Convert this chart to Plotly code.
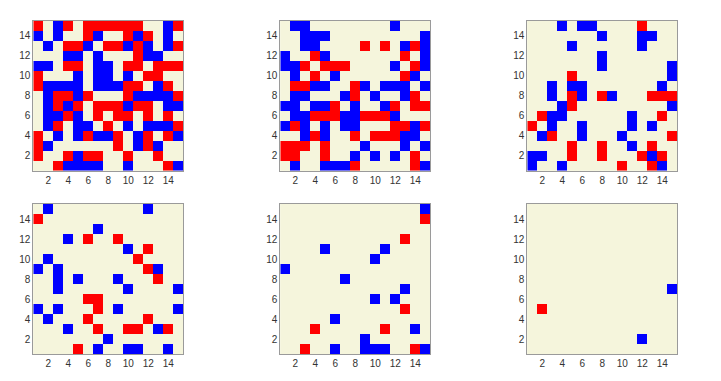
import plotly.graph_objects as go

# each grid lists rows from y=15 (top) down to y=1; R = -1, . = 0, B = 1
grid_1 = [
    "R.BR.RRRRRR..BR",
    "B.B..RB..RBR.B.",
    ".B.RRB.RRBRB.BR",
    "...BB.B...RBB..",
    "BB.RR.BB.RR.RRR",
    "R...B.BB.B.RR..",
    "RBBBB.BBBRR.BR.",
    ".BRRBR...RBBBBR",
    ".BRBR.RRRBRR.BB",
    ".BBRB.R.RR.R.R.",
    ".BR.BB.R.B.BBBR",
    "R.B.BRBBR.BR.RB",
    "RB......R.BRB..",
    "R..RBRR..R..R..",
    "..RBBBB..B...RB",
]
grid_2 = [
    ".BB........B...",
    "..BBB.........B",
    "..BB....R.R.BRB",
    "B..RB.......R.B",
    "BBR.RRR....B.RB",
    ".B.R.B......RB.",
    ".RRBB..RB.BBB.B",
    ".BB...BR.B..BR.",
    "BB.BBR.B..BR.RR",
    ".BBRRRBBRRRB...",
    "BRB.B.BB...RRBR",
    "..BRB..R.RRRBB.",
    "RRR.R...B...B.B",
    "RR..R..B.B.B.R.",
    ".B..BBBR.....RB",
]
grid_3 = [
    "...B.BB....R...",
    ".......B...BB..",
    "....B......B...",
    ".......B.......",
    ".......B......B",
    "....R.........B",
    "..B.BB.......B.",
    "..B.RB.RB...RRR",
    "...BR.........B",
    ".RBB......B..R.",
    "R.B..B....B.B..",
    ".BR..B...B....R",
    "....R..R..B.R..",
    "BB..R..R...RBR.",
    "B..B.....R..RB.",
]
grid_4 = [
    ".B.........B...",
    "R..............",
    "......B........",
    "...B.R..R......",
    ".........B.R...",
    ".B........R....",
    "B.B........RB..",
    "..B.B...B...R..",
    "..B......B....B",
    ".....RR........",
    "B.B...R.B.....B",
    ".B...R.....R...",
    "...B..R..RR.BR.",
    ".......B.......",
    "....R.B..BB..B.",
]
grid_5 = [
    "..............B",
    "..............R",
    "...............",
    "............R..",
    "....B.....B....",
    ".........B.....",
    "B..............",
    "......B........",
    "............B..",
    ".........B.B...",
    "............R..",
    ".....B.........",
    "...R......R..B.",
    "........B......",
    "..R..B..BBB..RB",
]
grid_6 = [
    "...............",
    "...............",
    "...............",
    "...............",
    "...............",
    "...............",
    "...............",
    "...............",
    "..............B",
    "...............",
    ".R.............",
    "...............",
    "...............",
    "...........B...",
    "...............",
]
grids = [grid_1, grid_2, grid_3, grid_4, grid_5, grid_6]
cells = list(range(1, 16))
ticks = [2, 4, 6, 8, 10, 12, 14]
code = {"R": -1, ".": 0, "B": 1}

# the page body adds an 8px margin, so the figure starts at (8, 8)
OFF = 8
W, H = 721 - 2 * OFF, 381 - 2 * OFF
x_px = [(33.3, 183.3), (280.3, 430.3), (527.3, 677.3)]
y_px = [(20.7, 170.7), (204, 354)]

colorscale = [[0, "#ff0000"], [0.333, "#ff0000"], [0.333, "#f5f5dc"],
              [0.667, "#f5f5dc"], [0.667, "#0000ff"], [1, "#0000ff"]]

fig = go.Figure()
layout = dict(width=W, height=H, margin=dict(l=0, r=0, t=0, b=0),
              plot_bgcolor="#f5f5dc", paper_bgcolor="white", showlegend=False)

for i, g in enumerate(grids):
    z = [[code[c] for c in row] for row in reversed(g)]
    n = "" if i == 0 else str(i + 1)
    fig.add_trace(go.Heatmap(z=z, x=cells, y=cells, zmin=-1, zmax=1,
                             colorscale=colorscale, showscale=False,
                             xaxis="x" + n, yaxis="y" + n))
    cx, ry = x_px[i % 3], y_px[i // 3]
    ax = dict(range=[0.5, 15.5], tickvals=ticks, showgrid=False, zeroline=False,
              showline=True, mirror=True, linecolor="#9a9a9a", linewidth=1,
              ticks="", tickfont=dict(family="Liberation Sans", size=10, color="#333"))
    layout["xaxis" + n] = dict(ax, domain=[(cx[0] - OFF) / W, (cx[1] - OFF) / W],
                               anchor="y" + n)
    layout["yaxis" + n] = dict(ax, domain=[1 - (ry[1] - OFF) / H, 1 - (ry[0] - OFF) / H],
                               anchor="x" + n)

fig.update_layout(**layout)
fig.write_html("out.html")
